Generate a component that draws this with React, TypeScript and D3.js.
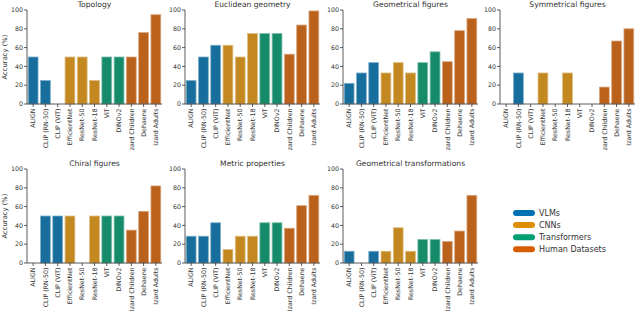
import React from "react";
import * as d3 from "d3";

const models = ["ALIGN", "CLIP (RN-50)", "CLIP (ViT)", "EfficientNet", "ResNet-50", "ResNet-18", "ViT", "DINOv2", "Izard Children", "Dehaene", "Izard Adults"];
const groups = ["VLMs", "VLMs", "VLMs", "CNNs", "CNNs", "CNNs", "Transformers", "Transformers", "Human Datasets", "Human Datasets", "Human Datasets"];

const topology = [50, 25, 0, 50, 50, 25, 50, 50, 50, 76, 95];
const euclidean = [25, 50, 62.5, 62.5, 50, 75, 75, 75, 53, 84, 99];
const geomFigures = [22, 33, 44, 33, 44, 33, 44, 55.5, 45, 78, 91];
const symFigures = [0, 33, 0, 33, 0, 33, 0, 0, 18, 67, 80];
const chiral = [0, 50, 50, 50, 0, 50, 50, 50, 35, 55, 82];
const metric = [28.5, 28.5, 42.8, 14.3, 28.5, 28.5, 42.8, 42.8, 37, 61, 72];
const transforms = [12.5, 0, 12.5, 12.5, 37.5, 12.5, 25, 25, 23, 34, 72];

const panels = [
  { title: "Topology", values: topology },
  { title: "Euclidean geometry", values: euclidean },
  { title: "Geometrical figures", values: geomFigures },
  { title: "Symmetrical figures", values: symFigures },
  { title: "Chiral figures", values: chiral },
  { title: "Metric properties", values: metric },
  { title: "Geometrical transformations", values: transforms },
];

const yTicks = [0, 20, 40, 60, 80, 100];
const legendGroups = ["VLMs", "CNNs", "Transformers", "Human Datasets"];
const legendColors = ["#0173b2", "#de8f05", "#029e73", "#d55e00"];
const barColors = ["#176d9c", "#c38820", "#168b6a", "#ba611b"];

const font = "DejaVu Sans, sans-serif";
const ink = "#333";

function Panel({ title, values, x0, top, showY, clipId, clipH }: any) {
  const w = 135;
  const h = 94;
  const x = d3.scaleBand().domain(models).range([0, w]).paddingInner(0.2).paddingOuter(0.1);
  const y = d3.scaleLinear().domain([0, 100]).range([h, 0]);
  const colorOf = (g: string) => barColors[legendGroups.indexOf(g)];
  return (
    <g transform={`translate(${x0},${top})`}>
      <text x={w / 2} y={-3} textAnchor="middle" fontSize={7.6} fill={ink} fontFamily={font}>{title}</text>
      {values.map((v: number, i: number) => {
        const c = colorOf(groups[i]);
        const edge = d3.interpolateRgb(c, "#fff")(0.45);
        return (
          <rect key={i} x={x(models[i])} y={y(v)} width={x.bandwidth()} height={h - y(v)}
            fill={c} stroke={edge} strokeWidth={0.8} />
        );
      })}
      <line x1={0} x2={0} y1={0} y2={h} stroke={ink} strokeWidth={0.8} />
      <line x1={0} x2={w} y1={h} y2={h} stroke={ink} strokeWidth={0.8} />
      {yTicks.map((t) => (
        <g key={t} transform={`translate(0,${y(t)})`}>
          <line x1={-3} x2={0} stroke={ink} strokeWidth={0.8} />
          <text x={-4} dy="0.35em" textAnchor="end" fontSize={6.3} fill={ink} fontFamily={font}>{t}</text>
        </g>
      ))}
      <g clipPath={clipId ? `url(#${clipId})` : undefined}>
        {models.map((m) => {
          const cx = (x(m) as number) + x.bandwidth() / 2;
          return (
            <g key={m}>
              <line x1={cx} x2={cx} y1={h} y2={h + 3} stroke={ink} strokeWidth={0.8} />
              <text transform={`translate(${cx},${h + 4.5}) rotate(-90)`} textAnchor="end" dy="0.35em"
                fontSize={6.3} fill={ink} fontFamily={font}>{m}</text>
            </g>
          );
        })}
      </g>
      {clipId && (
        <clipPath id={clipId}>
          <rect x={-10} y={h} width={w + 20} height={clipH} />
        </clipPath>
      )}
      {showY && (
        <text transform={`translate(-20,${h / 2}) rotate(-90)`} textAnchor="middle" fontSize={6.8} fill={ink} fontFamily={font}>Accuracy (%)</text>
      )}
    </g>
  );
}

export default function App() {
  const xs = [27, 185, 343, 500];
  return (
    <svg width={640} height={312} style={{ position: "absolute", left: 0, top: 0, background: "#fff" }}>
      {panels.map((p, i) => {
        const row = Math.floor(i / 4);
        const col = i % 4;
        return (
          <Panel key={p.title} title={p.title} values={p.values} x0={xs[col]} top={row === 0 ? 10 : 169}
            showY={col === 0} clipId={row === 0 ? `clip${i}` : undefined} clipH={47} />
        );
      })}
      <g transform="translate(513,213)">
        {legendGroups.map((g, i) => (
          <g key={g} transform={`translate(0,${i * 12.1})`}>
            <line x1={3} x2={19} y1={0} y2={0} stroke={legendColors[i]} strokeWidth={6} strokeLinecap="round" />
            <text x={26} dy="0.35em" fontSize={8} fill={ink} fontFamily={font}>{g}</text>
          </g>
        ))}
      </g>
    </svg>
  );
}
